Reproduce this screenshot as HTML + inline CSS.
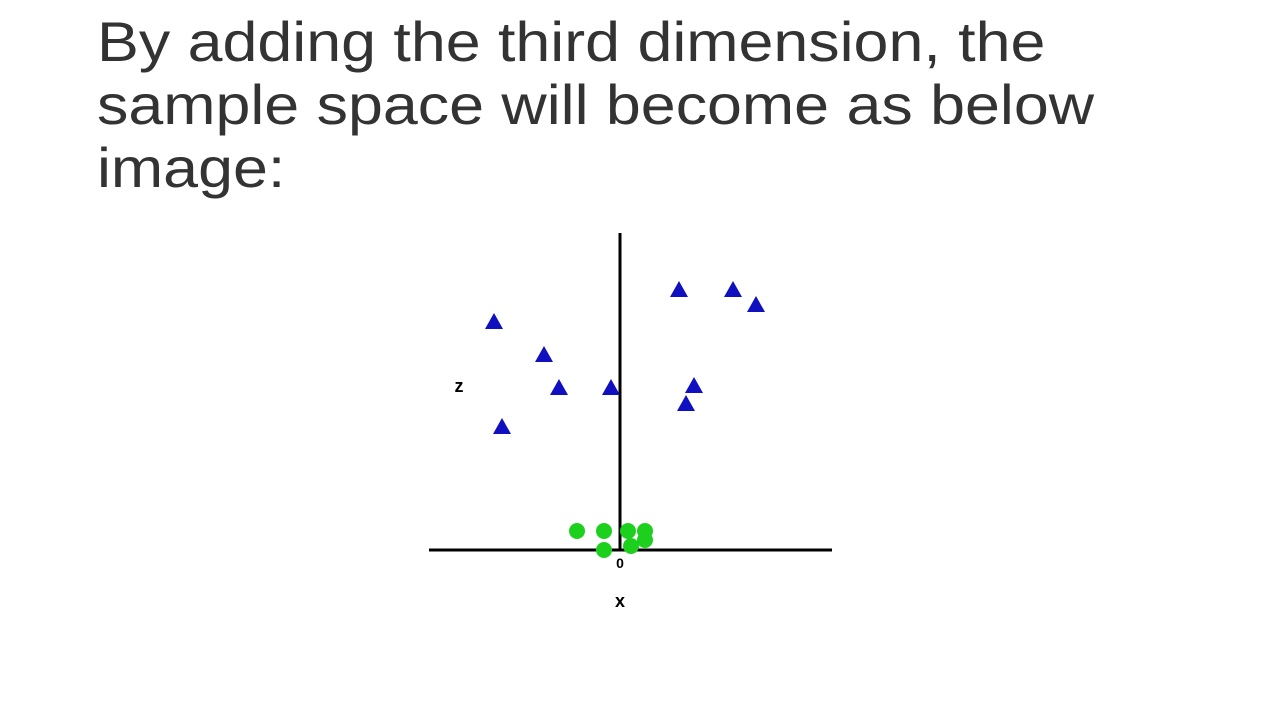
<!DOCTYPE html>
<html><head><meta charset="utf-8"><style>
html,body{margin:0;padding:0;background:#fff;width:1280px;height:720px;overflow:hidden}
#title{position:absolute;left:97px;top:10px;font-family:"Liberation Sans",sans-serif;font-size:56px;line-height:63px;color:#333;margin:0;font-weight:normal;transform:scaleX(1.12);transform-origin:0 0;white-space:nowrap}
svg{position:absolute;left:0;top:0}
</style></head><body>
<h1 id="title">By adding the third dimension, the<br>sample space will become as below<br>image:</h1>
<svg id="chart" width="1280" height="720">
<line x1="620" y1="233" x2="620" y2="550" stroke="#000" stroke-width="3"/>
<line x1="429" y1="550" x2="832" y2="550" stroke="#000" stroke-width="3"/>
<text x="459" y="392" font-family="Liberation Sans,sans-serif" font-size="18" font-weight="bold" text-anchor="middle">z</text>
<text x="620" y="568" font-family="Liberation Sans,sans-serif" font-size="14" font-weight="bold" text-anchor="middle">0</text>
<text x="620" y="607" font-family="Liberation Sans,sans-serif" font-size="18" font-weight="bold" text-anchor="middle">x</text>
<g id="marks"></g>
</svg>
<script>
const triX=[-126,-76,-61,-9,-118,59,113,136,74,66];
const triZ=[228,195,162,162,123,260,260,245,164,146];
const cirX=[-43,-16,8,25,25,11,-16];
const cirZ=[19,19,19,19,10,4,0];
const sx=v=>620+v, sz=v=>550-v;
const g=document.getElementById('marks'),NS='http://www.w3.org/2000/svg';
triX.forEach((x,i)=>{const cx=sx(x),cy=sz(triZ[i]);
const p=document.createElementNS(NS,'polygon');
p.setAttribute('points',`${cx},${cy-9} ${cx+9},${cy+7} ${cx-9},${cy+7}`);
p.setAttribute('fill','#1010c0');


g.appendChild(p);});
cirX.forEach((x,i)=>{
const c=document.createElementNS(NS,'circle');
c.setAttribute('cx',sx(x));c.setAttribute('cy',sz(cirZ[i]));c.setAttribute('r',8);
c.setAttribute('fill','#1dd01d');


g.appendChild(c);});
</script>
</body></html>
